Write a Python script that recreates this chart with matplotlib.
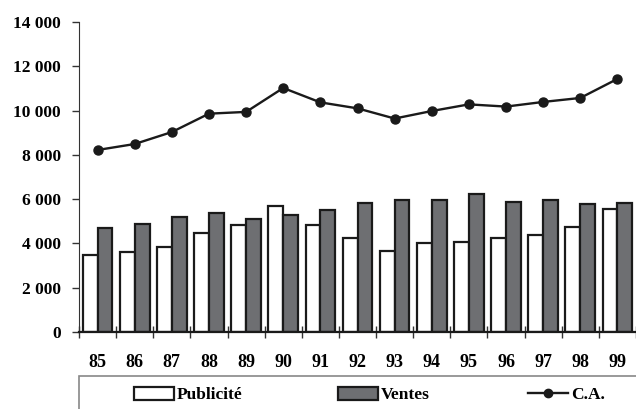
import numpy as np
import matplotlib.pyplot as plt
from matplotlib.patches import Rectangle, Patch
from matplotlib.lines import Line2D
from matplotlib.ticker import FuncFormatter

annees = ['85', '86', '87', '88', '89', '90', '91', '92', '93', '94', '95', '96', '97', '98', '99']
publicite = [3500, 3630, 3850, 4460, 4840, 5690, 4810, 4250, 3640, 4000, 4050, 4250, 4370, 4730, 5560]
ventes = [4700, 4880, 5210, 5380, 5090, 5290, 5530, 5810, 5950, 5960, 6220, 5890, 5980, 5780, 5810]
ca = [8220, 8490, 9030, 9860, 9940, 11020, 10370, 10100, 9640, 9980, 10280, 10180, 10390, 10570, 11430]

plt.rcParams['font.family'] = ['Liberation Serif', 'DejaVu Serif']
plt.rcParams['font.weight'] = 'bold'

fig = plt.figure(figsize=(6.36, 4.09), dpi=100)
ax = fig.add_axes([79 / 636, 1 - 332 / 409, 1 - 79 / 636, 310 / 409])

x = np.arange(len(annees))
w = 0.4
gris = '#6e6f72'
noir = '#1a1a1a'
ax.bar(x - w / 2, publicite, w, color='white', edgecolor=noir, linewidth=1.6, zorder=2)
ax.bar(x + w / 2, ventes, w, color=gris, edgecolor=noir, linewidth=1.6, zorder=2)
ax.plot(x, ca, '-o', color=noir, linewidth=1.7, markersize=6.5, zorder=3)

ax.set_xlim(-0.5, len(annees) - 0.5)
ax.set_ylim(0, 14000)
ax.set_yticks(np.arange(0, 14001, 2000))
ax.yaxis.set_major_formatter(FuncFormatter(lambda v, p: f'{int(v):,}'.replace(',', ' ')))

ax.set_xticks(np.arange(-0.5, len(annees), 1.0))
ax.set_xticklabels([])
ax.set_xticks(x, minor=True)
ax.set_xticklabels(annees, minor=True)
ax.tick_params(axis='x', which='major', direction='inout', length=8, width=1, color='#333333')
ax.tick_params(axis='x', which='minor', length=0, pad=16, labelsize=13)
ax.tick_params(axis='y', direction='out', length=5, width=1, pad=8, labelsize=12.5, color='#333333')

for s in ['top', 'right']:
    ax.spines[s].set_visible(False)
ax.spines['left'].set_color('#333333')
ax.spines['bottom'].set_color(noir)
ax.spines['bottom'].set_linewidth(1.6)

# cadre de la légende, qui sort de l'image
fig.patches.append(Rectangle((79 / 636, -0.05), 1.0, 0.05 + 1 - 376 / 409, transform=fig.transFigure,
                             facecolor='white', edgecolor='#888888', linewidth=1.2))

entrees = [
    (Patch(facecolor='white', edgecolor=noir, linewidth=1.6), 'Publicité', 118),
    (Patch(facecolor=gris, edgecolor=noir, linewidth=1.6), 'Ventes', 322),
    (Line2D([], [], color=noir, marker='o', linewidth=1.7, markersize=6), 'C.A.', 512),
]
for h, lab, px in entrees:
    fig.legend([h], [lab], frameon=False, loc='center left',
               bbox_to_anchor=(px / 636, 1 - 395 / 409),
               handlelength=2.3, handleheight=0.75, handletextpad=0.2,
               prop={'size': 12.5, 'weight': 'bold'})

fig.savefig('out.png', dpi=100)
